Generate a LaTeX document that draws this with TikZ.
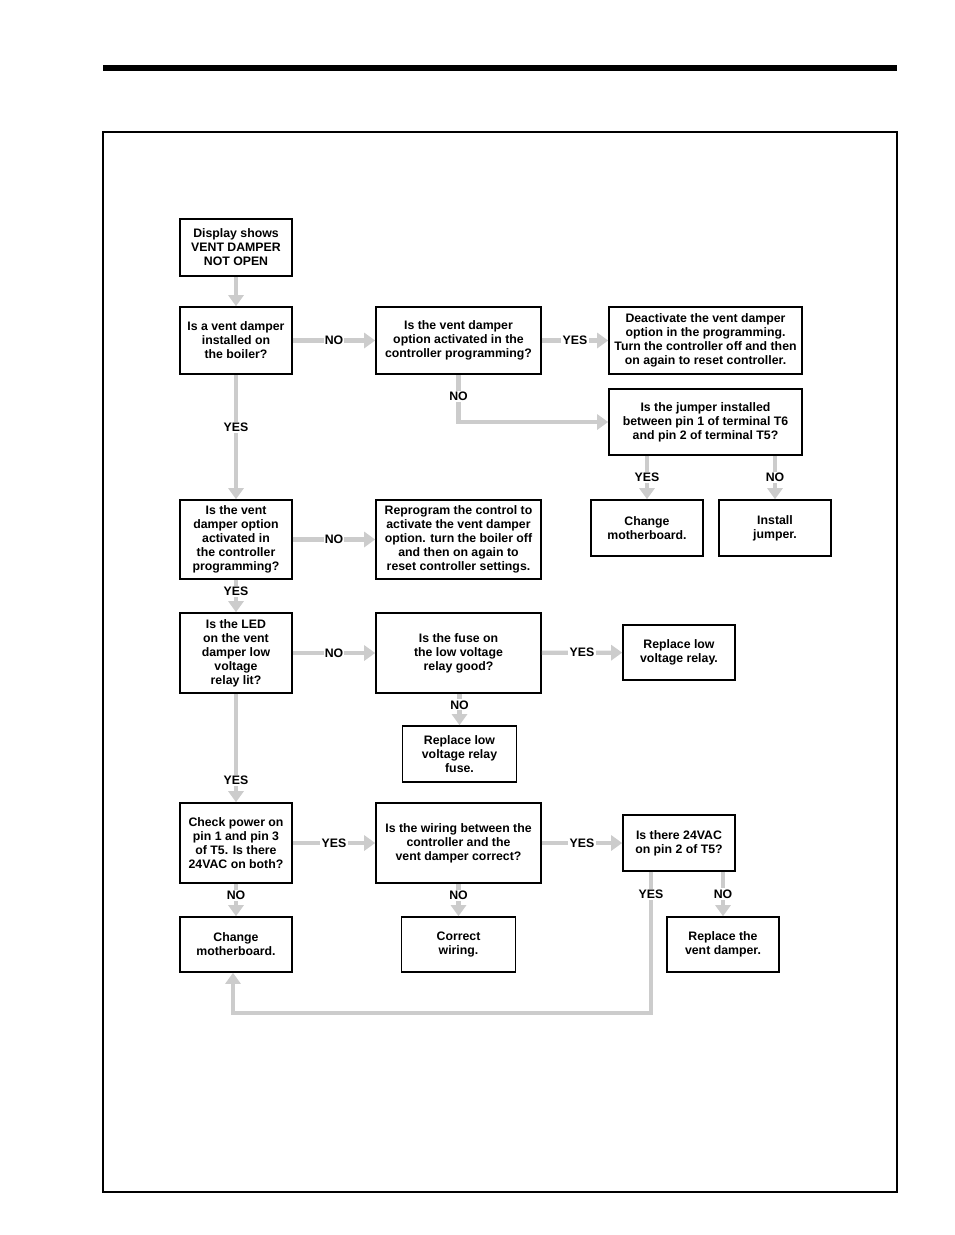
\documentclass[tikz,border=0pt]{standalone}
\usepackage{fontspec}
\setmainfont{Liberation Sans}
\usetikzlibrary{arrows.meta}
\definecolor{arrgray}{RGB}{204,204,204}
\begin{document}
\begin{tikzpicture}[x=1pt,y=-1pt,
  box/.style={draw, line width=1.6pt, align=center, inner sep=1pt,
    font=\fontsize{12.3}{14}\selectfont\bfseries},
  flow/.style={draw=arrgray, line width=4.2pt,
    -{Triangle[width=15pt,length=11pt]}},
  lbl/.style={fill=white, inner sep=1.2pt, text=black,
    font=\fontsize{12.3}{14}\selectfont\bfseries}]
\useasboundingbox (0,0) rectangle (954,1235);
% page frame
\fill (103,65) rectangle (897,71);
\draw[line width=1.2pt] (103,132) rectangle (897,1192);
% nodes
\node[box, minimum width=112, minimum height=57] (start) at (236,247.5) {Display shows\\VENT DAMPER\\NOT OPEN};
\node[box, minimum width=112, minimum height=67] (q1) at (236,340.5) {Is a vent damper\\installed on\\the boiler?};
\node[box, minimum width=165, minimum height=67] (q2) at (458.5,340.5) {Is the vent damper\\option activated in the\\controller programming?};
\node[box, minimum width=193, minimum height=67] (a1) at (705.5,340.5) {Deactivate the vent damper\\option in the programming.\\Turn the controller off and then\\on again to reset controller.};
\node[box, minimum width=193, minimum height=66] (q3) at (705.5,422) {Is the jumper installed\\between pin 1 of terminal T6\\and pin 2 of terminal T5?};
\node[box, minimum width=112, minimum height=56] (a2) at (647,528) {Change\\motherboard.};
\node[box, minimum width=112, minimum height=56] (a3) at (775,528) {Install\\jumper.};
\node[box, minimum width=112, minimum height=79] (q4) at (236,539.5) {Is the vent\\damper option\\activated in\\the controller\\programming?};
\node[box, minimum width=165, minimum height=79] (a4) at (458.5,539.5) {Reprogram the control to\\activate the vent damper\\option. turn the boiler off\\and then on again to\\reset controller settings.};
\node[box, minimum width=112, minimum height=80] (q5) at (236,653) {Is the LED\\on the vent\\damper low\\voltage\\relay lit?};
\node[box, minimum width=165, minimum height=80] (q6) at (458.5,653) {Is the fuse on\\the low voltage\\relay good?};
\node[box, minimum width=112, minimum height=55] (a5) at (679,652.5) {Replace low\\voltage relay.};
\node[box, minimum width=114, minimum height=56] (a6) at (459.5,754) {Replace low\\voltage relay\\fuse.};
\node[box, minimum width=112, minimum height=80] (q7) at (236,843) {Check power on\\pin 1 and pin 3\\of T5. Is there\\24VAC on both?};
\node[box, minimum width=165, minimum height=80] (q8) at (458.5,843) {Is the wiring between the\\controller and the\\vent damper correct?};
\node[box, minimum width=112, minimum height=56] (q9) at (679,843) {Is there 24VAC\\on pin 2 of T5?};
\node[box, minimum width=112, minimum height=55] (a7) at (236,944.5) {Change\\motherboard.};
\node[box, minimum width=114, minimum height=55] (a8) at (458.5,944.5) {Correct\\wiring.};
\node[box, minimum width=112, minimum height=55] (a9) at (723,944.5) {Replace the\\vent damper.};
% connectors
\draw[flow] (start) -- (q1);
\draw[flow] (q1) -- node[lbl] {NO} (q2);
\draw[flow] (q2) -- node[lbl] {YES} (a1);
\draw[flow] (q2.south) |- node[lbl, pos=0.23] {NO} (q3.west);
\draw[flow] (q1) -- node[lbl, pos=0.42] {YES} (q4);
\draw[flow] (a2.north |- q3.south) -- node[lbl] {YES} (a2.north);
\draw[flow] (a3.north |- q3.south) -- node[lbl] {NO} (a3.north);
\draw[flow] (q4) -- node[lbl] {NO} (a4);
\draw[flow] (q4) -- node[lbl, pos=0.35] {YES} (q5);
\draw[flow] (q5) -- node[lbl] {NO} (q6);
\draw[flow] (q6) -- node[lbl] {YES} (a5);
\draw[flow] (q6.south -| a6.north) -- node[lbl, pos=0.35] {NO} (a6.north);
\draw[flow] (q5) -- node[lbl, pos=0.8] {YES} (q7);
\draw[flow] (q7) -- node[lbl] {YES} (q8);
\draw[flow] (q8) -- node[lbl] {YES} (q9);
\draw[flow] (q7) -- node[lbl, pos=0.35] {NO} (a7);
\draw[flow] (q8) -- node[lbl, pos=0.35] {NO} (a8);
\draw[flow] (q9.south -| a9.north) -- node[lbl, pos=0.5] {NO} (a9.north);
\coordinate (yb) at (651,1013);
\coordinate (yl) at (233,1013);
\draw[flow] (q9.south -| yb) -- node[lbl, pos=0.16] {YES} (yb) -- (yl) -- (a7.south -| yl);
\end{tikzpicture}
\end{document}
